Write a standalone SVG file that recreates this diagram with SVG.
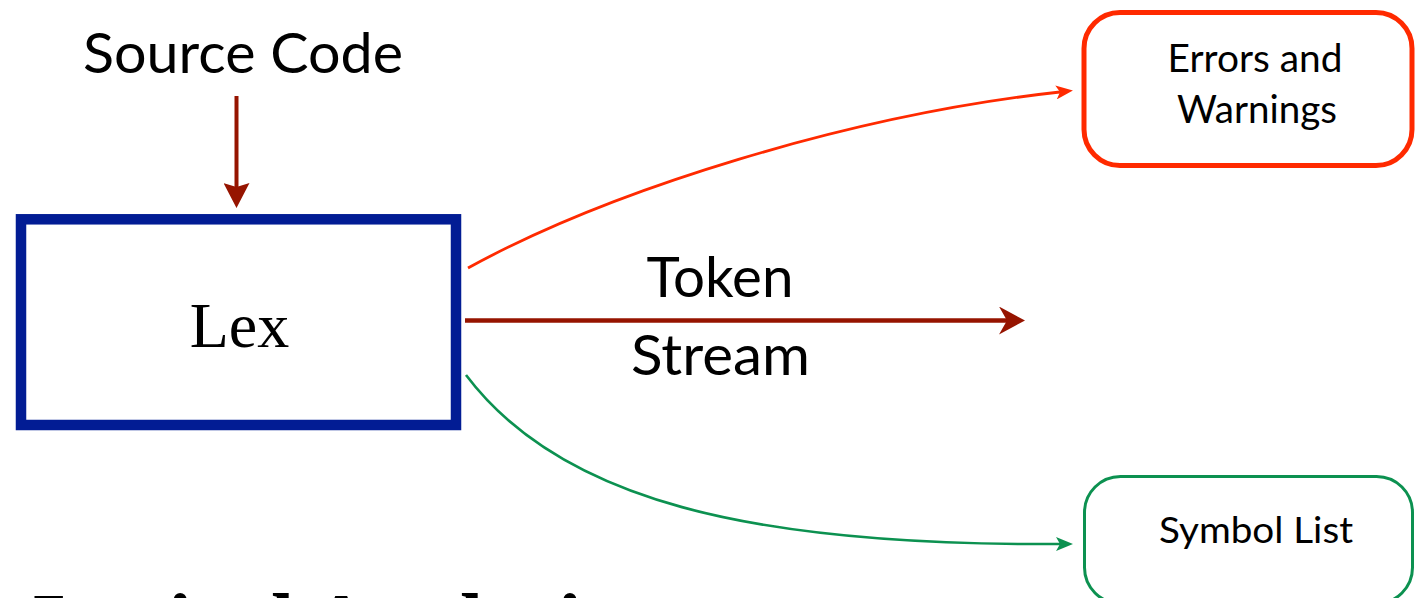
<svg xmlns="http://www.w3.org/2000/svg" width="1416" height="598" viewBox="0 0 1416 598">
  <style>
    .sans { font-family: Lato, "Open Sans", "Liberation Sans", sans-serif; fill: #000; }
    .serif { font-family: "Liberation Serif", "DejaVu Serif", serif; fill: #000; }
    .dark { stroke: #961400; fill: none; }
  </style>
  <defs>
    <marker id="arrDark" markerUnits="userSpaceOnUse" markerWidth="26" markerHeight="28" refX="8" refY="14" orient="auto">
      <path d="M0,0 L26,14 L0,28 L8,14 Z" fill="#961400"/>
    </marker>
    <marker id="arrDown" markerUnits="userSpaceOnUse" markerWidth="25" markerHeight="26" refX="4" refY="13" orient="auto">
      <path d="M0,0 L25,13 L0,26 L4,13 Z" fill="#961400"/>
    </marker>
    <marker id="arrRed" markerUnits="userSpaceOnUse" markerWidth="17" markerHeight="14" refX="4" refY="7" orient="auto">
      <path d="M0,0 L17,7 L0,14 L4,7 Z" fill="#FF2A00"/>
    </marker>
    <marker id="arrGreen" markerUnits="userSpaceOnUse" markerWidth="17" markerHeight="14" refX="4" refY="7" orient="auto">
      <path d="M0,0 L17,7 L0,14 L4,7 Z" fill="#0C9150"/>
    </marker>
  </defs>
  <rect width="1416" height="598" fill="#fff"/>

  <g id="source">
    <text class="sans" x="243" y="73" font-size="56" text-anchor="middle" textLength="320" lengthAdjust="spacingAndGlyphs">Source Code</text>
  </g>

  <g id="lex">
    <rect x="21" y="219.3" width="435" height="205.7" fill="#fff" stroke="#021C94" stroke-width="10.5"/>
    <text class="serif" x="239.5" y="346.7" font-size="64" text-anchor="middle">Lex</text>
  </g>

  <g id="errors">
    <rect x="1084" y="12.5" width="328" height="153" rx="36" ry="36" fill="#fff" stroke="#FF2A00" stroke-width="5"/>
    <text class="sans" x="1255" y="72" font-size="38" text-anchor="middle" textLength="175" lengthAdjust="spacingAndGlyphs">Errors and</text>
    <text class="sans" x="1257" y="123" font-size="38" text-anchor="middle" textLength="160" lengthAdjust="spacingAndGlyphs">Warnings</text>
  </g>

  <g id="symbols">
    <rect x="1084.5" y="476.5" width="328" height="127" rx="36" ry="36" fill="#fff" stroke="#0C9150" stroke-width="3"/>
    <text class="sans" x="1256" y="543.3" font-size="37" text-anchor="middle" textLength="194" lengthAdjust="spacingAndGlyphs">Symbol List</text>
  </g>

  <g id="token-label">
    <text class="sans" x="720" y="297.3" font-size="57" text-anchor="middle" textLength="147" lengthAdjust="spacingAndGlyphs">Token</text>
    <text class="sans" x="720.5" y="375" font-size="57" text-anchor="middle" textLength="179" lengthAdjust="spacingAndGlyphs">Stream</text>
  </g>

  <g id="title">
    <text class="serif" x="33" y="652" font-size="84" font-weight="bold">Lexical Analysis</text>
  </g>

  <g id="connectors">
    <line class="dark" x1="236.5" y1="96" x2="236.5" y2="187" stroke-width="4" marker-end="url(#arrDown)"/>
    <line class="dark" x1="465" y1="320.5" x2="1007" y2="320.5" stroke-width="4.5" marker-end="url(#arrDark)"/>
    <path d="M468,268 C610,190 850,115 1060,92" fill="none" stroke="#FF2A00" stroke-width="2.8" marker-end="url(#arrRed)"/>
    <path d="M466,375 C560,500 750,546 1060,544" fill="none" stroke="#0C9150" stroke-width="2.6" marker-end="url(#arrGreen)"/>
  </g>
</svg>
